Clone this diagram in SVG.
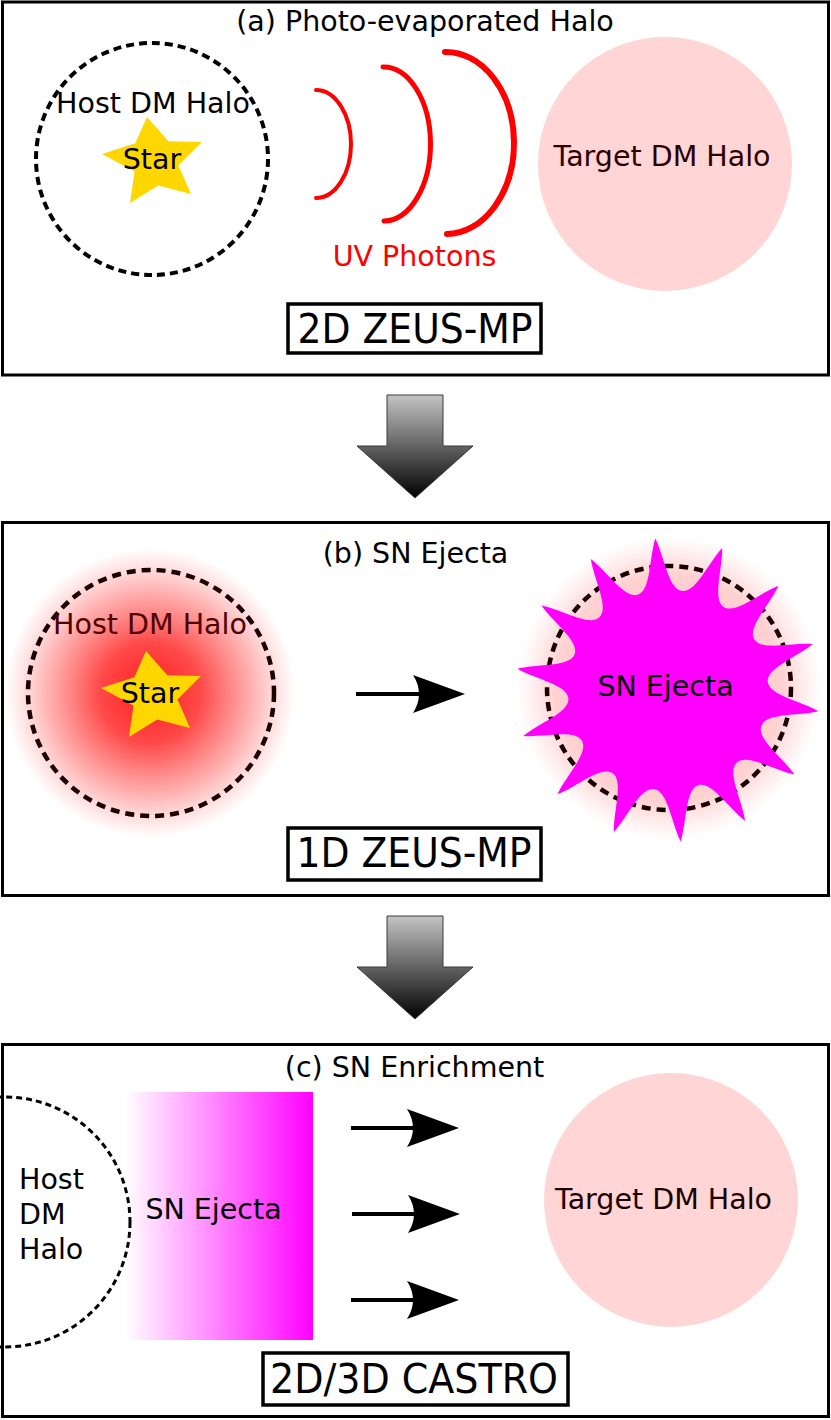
<svg xmlns="http://www.w3.org/2000/svg" width="831" height="1420" viewBox="0 0 831 1420">
<style>
text{font-family:"DejaVu Sans","Liberation Sans",sans-serif;font-size:28.5px;fill:#000}
.mid{text-anchor:middle}
.panel{fill:#fff;stroke:#000;stroke-width:3}
.box{fill:#fff;stroke:#000;stroke-width:3.5}
.big{font-size:40px}
.arrline{stroke:#000;stroke-width:4;fill:none}
.blk{fill:url(#gBlock);stroke:#3a3a3a;stroke-width:1}
.uv{fill:none;stroke:#ff0000;stroke-linecap:round}
</style>
<defs>
<linearGradient id="gBlock" x1="0" y1="0" x2="0" y2="1">
<stop offset="0" stop-color="#c4c4c4"/>
<stop offset="1" stop-color="#000"/>
</linearGradient>
<radialGradient id="gHost">
<stop offset="0" stop-color="#ff1a1a" stop-opacity="1"/>
<stop offset="0.35" stop-color="#ff2a2a" stop-opacity="0.85"/>
<stop offset="0.7" stop-color="#ff3a3a" stop-opacity="0.4"/>
<stop offset="1" stop-color="#ff5555" stop-opacity="0"/>
</radialGradient>
<radialGradient id="gGlow">
<stop offset="0" stop-color="#ff8080" stop-opacity="0.6"/>
<stop offset="0.75" stop-color="#ff9a9a" stop-opacity="0.45"/>
<stop offset="1" stop-color="#ffb0b0" stop-opacity="0"/>
</radialGradient>
<linearGradient id="gEject" x1="0" y1="0" x2="1" y2="0">
<stop offset="0" stop-color="#ff00ff" stop-opacity="0"/>
<stop offset="1" stop-color="#ff00ff" stop-opacity="1"/>
</linearGradient>
<polygon id="star" points="147,117 168.4,141.3 202,142 178.5,165.5 191,194 158.3,185.5 130,203 134.5,171.5 102,154 135.3,143.3"/>
<path id="head" d="M0 0 L-52 -19 Q-40 0 -52 19 Z"/>
</defs>

<g id="panel-a">
<rect class="panel" x="2.5" y="2" width="826" height="373"/>
<text class="mid" x="425" y="31">(a) Photo-evaporated Halo</text>
<g id="host-halo-a">
<circle cx="152" cy="159" r="116" fill="none" stroke="#000" stroke-width="4" stroke-dasharray="8 5"/>
<text class="mid" x="153" y="113">Host DM Halo</text>
</g>
<g id="star-a">
<use href="#star" fill="#ffd700"/>
<text class="mid" x="152" y="169">Star</text>
</g>
<g id="uv-photons">
<path class="uv" stroke-width="4" d="M316 90 A35 54 0 0 1 316 198"/>
<path class="uv" stroke-width="5" d="M383 67 A47 77 0 0 1 384 221"/>
<path class="uv" stroke-width="6" d="M445 52 A68 91 0 0 1 447 234"/>
<text class="mid" x="414.5" y="266" style="fill:#ff0000">UV Photons</text>
</g>
<g id="target-halo-a">
<circle cx="665" cy="164" r="127" fill="#ffd5d5"/>
<text class="mid" x="662" y="166" style="fill:#2b0000">Target DM Halo</text>
</g>
<g id="label-a">
<rect class="box" x="288" y="304" width="253" height="49"/>
<text class="mid big" x="415" y="343" textLength="235" lengthAdjust="spacingAndGlyphs">2D ZEUS-MP</text>
</g>
</g>

<g id="step-arrow-1">
<path class="blk" d="M387 395 H443 V446 H473 L415 498 L357 446 H387 Z"/>
</g>

<g id="panel-b">
<rect class="panel" x="2.5" y="522.5" width="826" height="373"/>
<text class="mid" x="415.5" y="563">(b) SN Ejecta</text>
<g id="host-halo-b">
<circle cx="150" cy="693" r="145" fill="url(#gHost)"/>
<circle cx="151" cy="693" r="123" fill="none" stroke="#1a0000" stroke-width="4.5" stroke-dasharray="9 6"/>
<text class="mid" x="150" y="634" style="fill:#500000">Host DM Halo</text>
</g>
<g id="star-b">
<use href="#star" fill="#ffd700" transform="translate(-1 534)"/>
<text class="mid" x="150" y="703">Star</text>
</g>
<g id="sn-ejecta-b">
<circle cx="669" cy="688" r="152" fill="url(#gGlow)"/>
<circle cx="669" cy="688" r="122" fill="none" stroke="#1a0000" stroke-width="4.5" stroke-dasharray="9 6"/>
<path fill="#ff00ff" d="M655.3 538.5 C664.6 556.9 668.1 589.0 682.0 591.0 C695.9 593.0 708.1 563.1 722.2 548.0 C722.7 568.6 712.0 599.1 723.6 606.9 C735.2 614.7 759.3 593.1 778.5 585.7 C770.0 604.4 747.1 627.1 754.2 639.2 C761.3 651.3 792.3 642.3 812.8 643.9 C797.0 657.1 766.5 667.6 767.7 681.6 C768.9 695.6 800.7 700.9 818.5 711.3 C798.5 716.3 766.4 712.6 761.4 725.7 C756.4 738.8 782.9 757.4 794.4 774.5 C774.2 770.4 746.9 753.1 736.7 762.7 C726.5 772.3 742.2 800.5 745.2 820.9 C728.8 808.4 711.6 781.1 698.3 785.3 C685.0 789.5 686.9 821.8 680.7 841.5 C671.4 823.1 667.9 791.0 654.0 789.0 C640.1 787.0 627.9 816.9 613.8 832.0 C613.3 811.4 624.0 780.9 612.4 773.1 C600.8 765.3 576.7 786.9 557.5 794.3 C566.0 775.6 589.0 752.9 581.9 740.8 C574.8 728.7 543.7 737.7 523.2 736.1 C539.0 722.9 569.6 712.4 568.4 698.4 C567.2 684.4 535.3 679.1 517.5 668.7 C537.5 663.7 569.6 667.4 574.6 654.3 C579.6 641.2 553.2 622.6 541.6 605.5 C561.8 609.6 589.2 626.9 599.4 617.3 C609.6 607.7 593.8 579.5 590.8 559.1 C607.2 571.6 624.4 598.9 637.7 594.7 C651.0 590.5 649.1 558.2 655.3 538.5 Z"/>
<text class="mid" x="665.5" y="696">SN Ejecta</text>
</g>
<g id="label-b">
<rect class="box" x="288" y="828" width="253" height="52"/>
<text class="mid big" x="414" y="867" textLength="235" lengthAdjust="spacingAndGlyphs">1D ZEUS-MP</text>
</g>
</g>

<g id="step-arrow-2">
<path class="blk" d="M387 916 H443 V967 H473 L415 1019 L357 967 H387 Z"/>
</g>

<g id="panel-c">
<rect class="panel" x="2.5" y="1044.5" width="826" height="372"/>
<text class="mid" x="414.5" y="1077">(c) SN Enrichment</text>
<g id="host-halo-c">
<circle cx="5" cy="1222" r="125" fill="none" stroke="#000" stroke-width="3" stroke-dasharray="6 4"/>
<text x="19" y="1189">Host</text>
<text x="19" y="1224">DM</text>
<text x="19" y="1259">Halo</text>
</g>
<g id="sn-ejecta-c">
<rect x="125" y="1092" width="188" height="248" fill="url(#gEject)"/>
<text class="mid" x="213.5" y="1219">SN Ejecta</text>
</g>
<g id="target-halo-c">
<circle cx="671" cy="1200" r="127" fill="#ffd5d5"/>
<text class="mid" x="663.5" y="1209" style="fill:#1a0000">Target DM Halo</text>
</g>
<g id="label-c">
<rect class="box" x="263" y="1353" width="305" height="52"/>
<text class="mid big" x="414" y="1393" textLength="288" lengthAdjust="spacingAndGlyphs">2D/3D CASTRO</text>
</g>
</g>

<g id="connectors">
<line class="arrline" x1="356" y1="694" x2="420" y2="694"/>
<use href="#head" transform="translate(465 694)"/>
<line class="arrline" x1="351" y1="1128" x2="416" y2="1128"/>
<use href="#head" transform="translate(459 1128)"/>
<line class="arrline" x1="352" y1="1214" x2="417" y2="1214"/>
<use href="#head" transform="translate(460 1214)"/>
<line class="arrline" x1="351" y1="1300" x2="416" y2="1300"/>
<use href="#head" transform="translate(459 1300)"/>
</g>
</svg>
